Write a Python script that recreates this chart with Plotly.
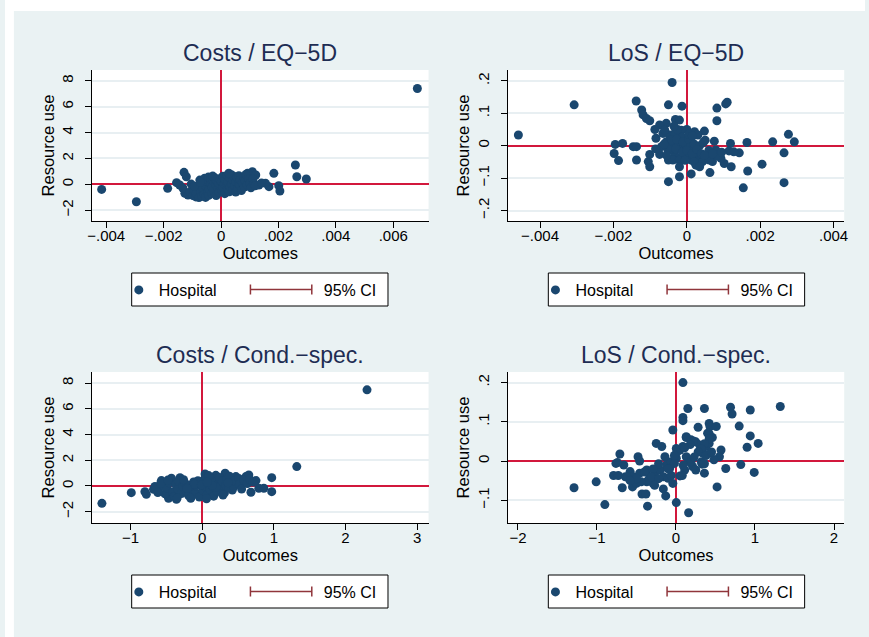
import plotly.graph_objects as go

W, H = 869, 637
FONT = "Liberation Sans, Arial, sans-serif"
NAVY = "#1A476F"
MAROON = "#90353B"
RED = "#D2183C"
TITLE_C = "#1E2D53"
GRID = "#E8EFF2"
BG = "#EAF2F3"

# ---------------- data ----------------
titles = ["Costs / EQ−5D", "LoS / EQ−5D", "Costs / Cond.−spec.", "LoS / Cond.−spec."]
legend_names = ["Hospital", "95% CI"]

# Panel 1: Costs / EQ-5D
p1_x = [0.00684, -0.00416, -0.00295, -0.00186, 0.00259, 0.00264, 0.00297, 0.00184, -0.00129, -0.00121,
        -0.00155, -0.00144, -0.00126, -0.00115, 0.00201, 0.00205, 0.00167, 0.00155, 0.00132, 0.00109,
        0.00121, 0.00092,
        -0.00133, -0.00108, -0.00098, -0.00096, -0.00088, -0.00086, -0.00081, -0.00077, -0.00074, -0.00071,
        -0.00067, -0.00064, -0.00063, -0.00059, -0.00057, -0.00054, -0.00053, -0.00049, -0.00047, -0.00044,
        -0.00043, -0.00041, -0.00037, -0.00036, -0.00032, -0.00031, -0.00027, -0.00026, -0.00023, -0.00019,
        -0.00017, -0.00016, -0.00011, -0.00009, -0.00007, -0.00006, -0.00002, 0.00001, 0.00003, 0.00006,
        0.00007, 0.00011, 0.00013, 0.00014, 0.00019, 0.00021, 0.00023, 0.00024, 0.00029, 0.00031,
        0.00032, 0.00036, 0.00037, 0.00041, 0.00042, 0.00046, 0.00047, 0.00051, 0.00052, 0.00056,
        0.00057, 0.00061, 0.00062, 0.00066, 0.00067, 0.00071, 0.00074, 0.00079, 0.00081, 0.00084,
        0.00087, 0.00091, 0.00096, 0.00101, 0.00104, 0.00111, 0.00114, 0.00119, 0.00141, -0.00104,
        -0.00093, -0.00072, -0.00029, 0.00027]
p1_y = [7.40, -0.39, -1.34, -0.31, 1.49, 0.59, 0.41, 0.85, 0.93, 0.59,
        0.13, -0.05, -0.69, -0.82, -0.10, -0.51, -0.18, 0.08, -0.05, 0.98,
        0.72, 0.85,
        -0.28, -0.57, -0.86, -0.38, -0.97, -0.71, -0.18, -1.02, 0.33, -0.53,
        -0.92, 0.12, -0.31, -0.77, 0.47, -1.01, -0.14, 0.22, -0.62, 0.56,
        -0.84, -0.36, 0.04, 0.41, -0.69, -0.22, 0.26, -0.48, 0.52, -0.06,
        -0.87, 0.29, -0.33, 0.11, -0.61, 0.44, -0.16, 0.21, -0.46, 0.62,
        -0.24, 0.04, -0.72, 0.36, -0.11, 0.69, -0.41, 0.16, -0.58, 0.46,
        -0.19, 0.74, 0.01, -0.44, 0.31, 0.61, -0.13, -0.59, 0.19, 0.51,
        -0.36, 0.06, 0.66, -0.09, 0.34, -0.48, 0.14, 0.56, -0.21, 0.29,
        0.76, -0.04, 0.43, 0.09, -0.26, 0.39, 0.06, -0.11, 0.11, 0.02,
        -0.14, 0.16, 0.64, 0.86]

# Panel 2: LoS / EQ-5D
p2_x = [-0.00459, -0.00307, -0.00040, -0.00138, -0.00050, -0.00013, -0.00123, -0.00119, -0.00110, -0.00101,
        -0.00031, -0.00020, 0.00082, 0.00106, 0.00110, 0.00082, -0.00056, -0.00074, -0.00087, -0.00084,
        -0.00195, -0.00175, -0.00198, -0.00186, -0.00146, -0.00137, -0.00137, -0.00105, -0.00101, -0.00101,
        -0.00074, -0.00050, -0.00050, -0.00020, 0.00012, 0.00063, 0.00164, 0.00234, 0.00277, 0.00293,
        0.00265, 0.00265, 0.00205, 0.00166, 0.00154, 0.00119, 0.00115, 0.00143, 0.00121, 0.00102,
        0.00075, 0.00048, 0.00050, 0.00000, -0.00015,
        -0.00065, -0.00047, -0.00056, -0.00069, -0.00051, -0.00038, -0.00033, -0.00024, -0.00015, -0.00006,
        0.00021, 0.00030, 0.00012, 0.00021, 0.00030, 0.00039, 0.00025, 0.00079, 0.00057, 0.00070,
        0.00093, 0.00128, -0.00024, -0.00038, -0.00020, -0.00006, 0.00003, 0.00012, -0.00002, -0.00015,
        -0.00033, 0.00012, 0.00043, 0.00061, 0.00084,
        -0.00042, -0.00028, -0.00010, 0.00005, 0.00020, 0.00035, -0.00045, -0.00030, -0.00012, 0.00000,
        0.00015, 0.00028, 0.00040, -0.00055, -0.00005, 0.00020, 0.00005, -0.00025, 0.00045, 0.00060,
        0.00070, -0.00062, -0.00035, 0.00015, 0.00035, 0.00048, 0.00095, -0.00085, -0.00020, -0.00060]
p2_y = [0.033, 0.126, 0.195, 0.138, 0.126, 0.122, 0.110, 0.095, 0.084, 0.077,
        0.081, 0.079, 0.116, 0.129, 0.134, 0.077, 0.069, 0.064, 0.050, 0.023,
        0.004, 0.007, -0.024, -0.046, -0.003, -0.003, -0.044, -0.049, -0.065, -0.027,
        -0.027, -0.044, -0.111, -0.096, -0.087, -0.083, 0.010, 0.012, 0.035, 0.012,
        -0.022, -0.114, -0.057, -0.078, -0.130, 0.007, -0.016, -0.022, -0.065, -0.055,
        0.014, 0.045, 0.017, 0.050, 0.048,
        0.038, 0.033, 0.012, -0.003, -0.013, 0.002, -0.029, -0.039, -0.008, 0.023,
        0.043, 0.033, 0.012, -0.013, -0.029, -0.044, -0.060, -0.013, -0.034, -0.049,
        -0.039, -0.019, 0.012, -0.044, -0.044, -0.024, -0.034, -0.003, 0.002, 0.028,
        0.038, -0.044, -0.049, -0.044, -0.032,
        0.018, 0.020, 0.012, 0.020, 0.005, 0.000, -0.012, -0.010, -0.020, -0.015,
        -0.025, -0.012, -0.025, -0.030, -0.045, -0.050, 0.035, 0.050, 0.010, -0.015,
        -0.025, 0.005, 0.060, 0.030, -0.065, -0.030, -0.020, -0.010, -0.065, 0.048]

# Panel 3: Costs / Cond.-spec.
p3_x = [2.30, 1.32, -1.40, -0.99, -0.80, -0.78, -0.68, -0.57, -0.43, -0.31,
        -0.47, -0.36, 0.97, 0.97, 0.79, 0.86, 0.68, 0.75, 0.61, 0.42,
        0.32, 0.04, 0.19, 0.56, 0.47, 0.65,
        -0.61, -0.56, -0.52, -0.49, -0.46, -0.41, -0.39, -0.37, -0.34, -0.33,
        -0.29, -0.27, -0.24, -0.22, -0.19, -0.18, -0.14, -0.12, -0.09, -0.08,
        -0.04, -0.02, 0.01, 0.02, 0.05, 0.07, 0.08, 0.11, 0.12, 0.15,
        0.16, 0.18, 0.21, 0.22, 0.24, 0.27, 0.28, 0.31, 0.33, 0.34,
        0.37, 0.38, 0.41, 0.44, 0.45, 0.51, 0.52, 0.55, 0.58, 0.63,
        0.66, 0.71, -0.66, -0.62, -0.58, -0.48, -0.35, -0.16, 0.06, -0.26,
        0.09, 0.19, -0.06, 0.29, 0.14, -0.11, -0.01, 0.07, -0.21, 0.36]
p3_y = [7.48, 1.51, -1.35, -0.52, -0.44, -0.65, -0.26, 0.42, 0.60, 0.65,
        -0.96, -1.04, 0.65, -0.44, -0.18, -0.18, -0.49, 0.42, 0.73, -0.31,
        0.99, 0.94, 0.83, 0.21, 0.73, 0.86,
        -0.29, 0.06, -0.61, -0.16, 0.24, -0.46, -0.81, 0.11, -0.24, 0.39,
        -0.59, -0.04, 0.21, -0.41, -0.74, 0.06, -0.21, 0.31, -0.54, 0.01,
        -0.86, 0.16, -0.34, 0.46, -0.11, -0.66, 0.19, -0.29, 0.56, -0.06,
        -0.79, 0.29, -0.44, 0.09, 0.66, -0.19, 0.36, -0.54, 0.04, 0.51,
        -0.14, 0.76, 0.21, -0.06, 0.41, 0.59, 0.11, -0.24, 0.44, 0.19,
        0.54, 0.31, -0.04, -0.51, 0.19, 0.46, -0.94, -0.96, -0.99, 0.49,
        0.81, -0.09, 0.41, -0.71, 0.04, 0.14, 0.09, 0.29, -0.19, 0.26]

# Panel 4: LoS / Cond.-spec.
p4_x = [0.088, 0.15, 0.36, 0.69, 0.71, 0.94, 1.32, 0.088, 0.088, -0.04,
        0.28, 0.42, 0.43, 0.51, 0.80, 0.13, 0.19, 0.25, 0.40, 0.46,
        0.94, 1.04, 0.90, -0.25, -0.18, -0.71, -0.48, -0.46, -0.76, -0.66,
        0.63, 0.82, 0.99, 0.52, -1.29, -1.01, -0.90, -0.68, -0.55, -0.43,
        -0.38, -0.36, -0.13, -0.04, 0.004, 0.16, 0.36, 0.57, 0.55, 0.48,
        -0.79, -0.73, -0.64, -0.58, -0.54, -0.46, -0.37, -0.33, -0.27, -0.20,
        -0.16, -0.14, -0.12, -0.06, 0.004, 0.05, 0.004, 0.088, 0.13, 0.17,
        0.21, 0.25, 0.32, 0.34, 0.38, 0.30, 0.05, -0.08, -0.10, -0.37,
        -0.50, -0.29, -0.02, 0.11, 0.42, 0.33, 0.44,
        0.42, 0.42, 0.36, 0.32, 0.28, 0.22, 0.18, 0.11, 0.13, 0.01,
        -0.02, -0.22, -0.29, -0.40, -0.74, -0.16, 0.08, -0.06, -0.10, 0.19,
        0.09, 0.23, 0.36, 0.38, 0.45, -0.35, -0.44, -0.31, -0.22, -0.27,
        -0.50, -0.62, -0.58]
p4_y = [0.200, 0.134, 0.134, 0.137, 0.120, 0.130, 0.139, 0.111, 0.103, 0.079,
        0.086, 0.096, 0.088, 0.088, 0.089, 0.062, 0.054, 0.049, 0.071, 0.060,
        0.064, 0.045, 0.035, 0.045, 0.037, 0.018, 0.011, 0.000, -0.006, -0.010,
        -0.019, -0.009, -0.029, -0.066, -0.068, -0.053, -0.111, -0.068, -0.066, -0.084,
        -0.084, -0.115, -0.089, -0.057, -0.106, -0.132, -0.031, 0.028, 0.011, 0.003,
        -0.037, -0.037, -0.040, -0.027, -0.040, -0.031, -0.023, -0.040, -0.031, -0.023,
        -0.040, 0.011, -0.010, -0.002, 0.007, 0.028, 0.032, 0.037, 0.011, -0.002,
        -0.014, -0.023, -0.002, 0.020, 0.037, 0.041, -0.038, -0.019, -0.044, -0.053,
        -0.057, -0.057, -0.006, -0.023, 0.045, -0.008, 0.020,
        0.070, 0.057, 0.044, 0.031, 0.023, 0.051, 0.042, 0.034, 0.060, 0.022,
        0.014, -0.007, -0.020, -0.028, -0.004, -0.071, -0.037, -0.037, -0.020, -0.002,
        -0.011, 0.010, -0.007, 0.014, 0.023, -0.049, -0.053, -0.041, -0.045, -0.062,
        -0.045, -0.041, -0.050]

xtick_eq5d_costs = [-0.004, -0.002, 0, 0.002, 0.004, 0.006]
xtext_eq5d_costs = ["−.004", "−.002", "0", ".002", ".004", ".006"]
xtick_eq5d_los = [-0.004, -0.002, 0, 0.002, 0.004]
xtext_eq5d_los = ["−.004", "−.002", "0", ".002", ".004"]
xtick_cond_costs = [-1, 0, 1, 2, 3]
xtext_cond_costs = ["−1", "0", "1", "2", "3"]
xtick_cond_los = [-2, -1, 0, 1, 2]
xtext_cond_los = ["−2", "−1", "0", "1", "2"]
ytick_costs = [-2, 0, 2, 4, 6, 8]
ytext_costs = ["−2", "0", "2", "4", "6", "8"]
ytick_los_eq5d = [-0.2, -0.1, 0, 0.1, 0.2]
ytext_los_eq5d = ["−.2", "−.1", "0", ".1", ".2"]
ytick_los_cond = [-0.1, 0, 0.1, 0.2]
ytext_los_cond = ["−.1", "0", ".1", ".2"]

# ---------------- layout helpers ----------------
panels = [
    dict(x=p1_x, y=p1_y, xr=[-0.004493, 0.00723], yr=[-2.83, 8.83],
         xt=xtick_eq5d_costs, xl=xtext_eq5d_costs, yt=ytick_costs, yl=ytext_costs,
         box=(88, 70, 428, 221), leg=(128, 273)),
    dict(x=p2_x, y=p2_y, xr=[-0.00488, 0.00429], yr=[-0.2324, 0.2336],
         xt=xtick_eq5d_los, xl=xtext_eq5d_los, yt=ytick_los_eq5d, yl=ytext_los_eq5d,
         box=(508, 70, 848, 221), leg=(549, 273)),
    dict(x=p3_x, y=p3_y, xr=[-1.537, 3.159], yr=[-2.88, 8.87],
         xt=xtick_cond_costs, xl=xtext_cond_costs, yt=ytick_costs, yl=ytext_costs,
         box=(88, 372, 428, 523), leg=(128, 575)),
    dict(x=p4_x, y=p4_y, xr=[-2.129, 2.129], yr=[-0.158, 0.227],
         xt=xtick_cond_los, xl=xtext_cond_los, yt=ytick_los_cond, yl=ytext_los_cond,
         box=(508, 372, 848, 523), leg=(549, 575)),
]

LEG_W, LEG_H = 259, 33


def px(v):
    return v / W


def py(v):
    return 1 - v / H


fig = go.Figure()
shapes = [
    dict(type="rect", xref="paper", yref="paper", x0=0, x1=px(9), y0=0, y1=1,
         fillcolor="white", line=dict(width=0), layer="below"),
    dict(type="rect", xref="paper", yref="paper", x0=0, x1=1, y0=py(11), y1=1,
         fillcolor="white", line=dict(width=0), layer="below"),
]
layout = dict(
    width=W, height=H, margin=dict(l=0, r=0, t=0, b=0),
    paper_bgcolor=BG, plot_bgcolor="white", showlegend=True,
    font=dict(family=FONT, color="black"),
    annotations=[],
)

for i, p in enumerate(panels):
    n = i + 1
    sfx = "" if n == 1 else str(n)
    xa, ya = "x" + sfx, "y" + sfx
    leg = "legend" + sfx
    l, t, r, b = p["box"]
    fig.add_trace(go.Scatter(
        x=p["x"], y=p["y"], mode="markers", name=legend_names[0],
        marker=dict(color=NAVY, size=9, line=dict(width=0)),
        xaxis=xa, yaxis=ya, legend=leg, cliponaxis=False))
    # legend-only entry for the confidence-interval key (its rcap symbol is drawn below)
    fig.add_trace(go.Scatter(
        x=[None], y=[None], mode="lines", name=legend_names[1],
        line=dict(color="rgba(0,0,0,0)", width=1.5),
        xaxis=xa, yaxis=ya, legend=leg))
    layout["xaxis" + sfx] = dict(
        domain=[px(l), px(r)], range=p["xr"], anchor=ya,
        tickmode="array", tickvals=p["xt"], ticktext=p["xl"],
        ticks="outside", ticklen=6, tickwidth=1, tickcolor="black",
        ticklabelstandoff=-5,
        showline=True, linecolor="black", linewidth=1,
        showgrid=False, zeroline=True, zerolinecolor=RED, zerolinewidth=1.5,
        tickfont=dict(size=15, family=FONT, color="black"),
        title=dict(text="Outcomes", font=dict(size=16.5, family=FONT, color="black"), standoff=4),
        fixedrange=True)
    layout["yaxis" + sfx] = dict(
        domain=[py(b), py(t)], range=p["yr"], anchor=xa,
        tickmode="array", tickvals=p["yt"], ticktext=p["yl"], tickangle=-90,
        ticks="outside", ticklen=6, tickwidth=1, tickcolor="black",
        ticklabelstandoff=6,
        showline=True, linecolor="black", linewidth=1,
        showgrid=True, gridcolor=GRID, gridwidth=1.5,
        zeroline=True, zerolinecolor=RED, zerolinewidth=1.5,
        tickfont=dict(size=15, family=FONT, color="black"),
        title=dict(text="Resource use", font=dict(size=16.5, family=FONT, color="black"), standoff=0),
        fixedrange=True)
    lx, ly = p["leg"]
    # legend frame
    shapes.append(dict(type="rect", xref="paper", yref="paper",
                       x0=px(lx), x1=px(lx + LEG_W), y0=py(ly + LEG_H), y1=py(ly),
                       fillcolor="white", line=dict(color="black", width=1), layer="above"))
    # rcap key symbol for "95% CI"
    cy = ly + LEG_H / 2
    shapes.append(dict(type="line", xref="paper", yref="paper",
                       x0=px(lx + 120), x1=px(lx + 182), y0=py(cy), y1=py(cy),
                       line=dict(color=MAROON, width=1.5), layer="above"))
    for cx in (lx + 120, lx + 182):
        shapes.append(dict(type="line", xref="paper", yref="paper",
                           x0=px(cx), x1=px(cx), y0=py(cy - 5), y1=py(cy + 5),
                           line=dict(color=MAROON, width=1.5), layer="above"))
    layout[leg] = dict(
        x=px(lx - 13), y=py(ly), xanchor="left", yanchor="top", orientation="h",
        bgcolor="rgba(0,0,0,0)", borderwidth=0,
        font=dict(size=16, family=FONT, color="black"), itemwidth=30,
        entrywidth=120, entrywidthmode="pixels")
    layout["annotations"].append(dict(
        text=titles[i], xref="paper", yref="paper",
        x=px((l + r) / 2), y=py(t - 17), xanchor="center", yanchor="middle",
        showarrow=False, font=dict(size=23, family=FONT, color=TITLE_C)))

layout["shapes"] = shapes
fig.update_layout(**layout)
fig.write_html(
    "out.html", config={"displayModeBar": False},
    post_script=("document.documentElement.style.overflow='hidden';"
                 "document.body.style.overflow='hidden';"
                 "document.body.style.margin='0px';"
                 "document.body.style.background='" + BG + "';"))
